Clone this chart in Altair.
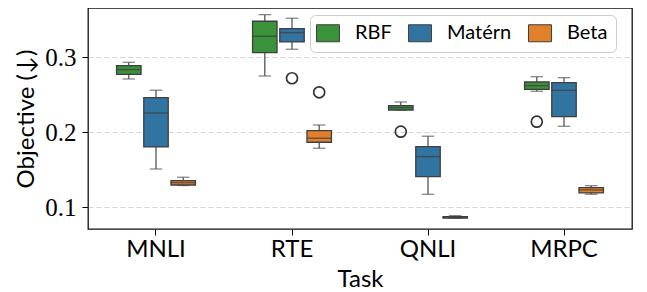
import altair as alt
import pandas as pd

tasks = ["MNLI", "RTE", "QNLI", "MRPC"]
kernels = ["RBF", "Matérn", "Beta"]
colors = ["#3a923a", "#3274a1", "#e1812c"]

# box statistics, ordered task by task, kernel by kernel
whisk_low = [0.2711, 0.151, 0.129,
             0.275, 0.3107, 0.1787,
             0.2295, 0.1173, 0.0853,
             0.2547, 0.208, 0.1173]
q1 = [0.2773, 0.1804, 0.1297,
      0.3061, 0.3204, 0.1867,
      0.2297, 0.1408, 0.0856,
      0.2573, 0.2208, 0.1191]
median = [0.2835, 0.2257, 0.1328,
          0.328, 0.3328, 0.192,
          0.2328, 0.1675, 0.0867,
          0.2621, 0.256, 0.1231]
q3 = [0.2888, 0.2461, 0.1355,
      0.348, 0.3382, 0.2021,
      0.2355, 0.1808, 0.0875,
      0.267, 0.2661, 0.1261]
whisk_high = [0.2933, 0.256, 0.140,
              0.3568, 0.352, 0.2097,
              0.2404, 0.1947, 0.0888,
              0.2741, 0.2728, 0.1288]

out_task = ["RTE", "RTE", "QNLI", "MRPC"]
out_kernel = ["Matérn", "Beta", "RBF", "RBF"]
out_value = [0.272, 0.2533, 0.2008, 0.2141]

rows = []
i = 0
for t in tasks:
    for k in kernels:
        rows.append(dict(task=t, kernel=k, lo=whisk_low[i], q1=q1[i], med=median[i],
                         q3=q3[i], hi=whisk_high[i]))
        i += 1
df = pd.DataFrame(rows)
dfo = pd.DataFrame(dict(task=out_task, kernel=out_kernel, v=out_value))

SANS = "Lato"
SERIF = "Liberation Serif"
EDGE = "#3f3f3f"

x_enc = alt.X("task:N", sort=tasks,
              scale=alt.Scale(paddingInner=0.4, paddingOuter=0.2),
              axis=alt.Axis(title="Task", labelAngle=0, tickSize=6, tickColor="#000",
                            domain=False, labelFont=SANS, labelFontSize=24,
                            labelColor="#000", labelPadding=2,
                            titleFont=SANS, titleFontSize=24, titleFontWeight="normal",
                            titleColor="#000", titlePadding=6))
xo_enc = alt.XOffset("kernel:N", sort=kernels,
                     scale=alt.Scale(paddingInner=0.1, paddingOuter=0.05))
y_scale = alt.Scale(domain=[0.071, 0.3657], zero=False, nice=False)
y_axis = alt.Axis(title="Objective (↓)", values=[0.1, 0.2, 0.3], format=".1f",
                  tickSize=6, tickColor="#000", domain=False, grid=True,
                  gridDash=[5, 3], gridColor="#d4d4d4", gridWidth=1,
                  labelFont=SERIF, labelFontSize=25, labelColor="#000", labelPadding=6,
                  titleFont=SANS, titleFontSize=24, titleFontWeight="normal",
                  titleColor="#000", titlePadding=6)

base = alt.Chart(df).encode(x=x_enc, xOffset=xo_enc)

whisk = base.mark_rule(color="#555555", strokeWidth=1.3).encode(
    y=alt.Y("lo:Q", scale=y_scale, axis=y_axis), y2="hi:Q")

caps_lo = base.mark_tick(orient="horizontal", size=12.5, thickness=1.3,
                         color="#555555").encode(y=alt.Y("lo:Q", scale=y_scale))
caps_hi = base.mark_tick(orient="horizontal", size=12.5, thickness=1.3,
                         color="#555555").encode(y=alt.Y("hi:Q", scale=y_scale))

boxes = base.mark_bar(stroke=EDGE, strokeWidth=1.3).encode(
    y=alt.Y("q1:Q", scale=y_scale), y2="q3:Q",
    color=alt.Color("kernel:N", sort=kernels,
                    scale=alt.Scale(domain=kernels, range=colors),
                    legend=alt.Legend(title=None, orient="none", legendX=222,
                                      legendY=7, direction="horizontal")))

meds = base.mark_tick(orient="horizontal", size=24.5, thickness=1.5,
                      color=EDGE).encode(y=alt.Y("med:Q", scale=y_scale))

outs = alt.Chart(dfo).mark_point(shape="circle", filled=False, size=121,
                                 stroke="#333333", strokeWidth=1.7, opacity=1).encode(
    x=alt.X("task:N", sort=tasks), xOffset=alt.XOffset("kernel:N", sort=kernels),
    y=alt.Y("v:Q", scale=y_scale))

chart = alt.layer(whisk, caps_lo, caps_hi, boxes, meds, outs).properties(
    width=544, height=221,
    padding={"left": 6, "top": 0, "right": 2, "bottom": 0},
).configure_view(stroke="#111111", strokeWidth=1.3).configure_legend(
    symbolType="M-1.35,-1L1.35,-1L1.35,1L-1.35,1Z", symbolSize=289,
    symbolStrokeColor=EDGE, symbolStrokeWidth=1, symbolOpacity=1,
    labelFont=SANS, labelFontSize=20, labelColor="#000", labelOffset=17,
    columnPadding=14, padding=8, strokeColor="#cccccc", fillColor="rgba(255,255,255,0.85)",
    cornerRadius=5, labelLimit=200,
)

chart.save("out.html", embed_options={"renderer": "svg", "actions": False})
